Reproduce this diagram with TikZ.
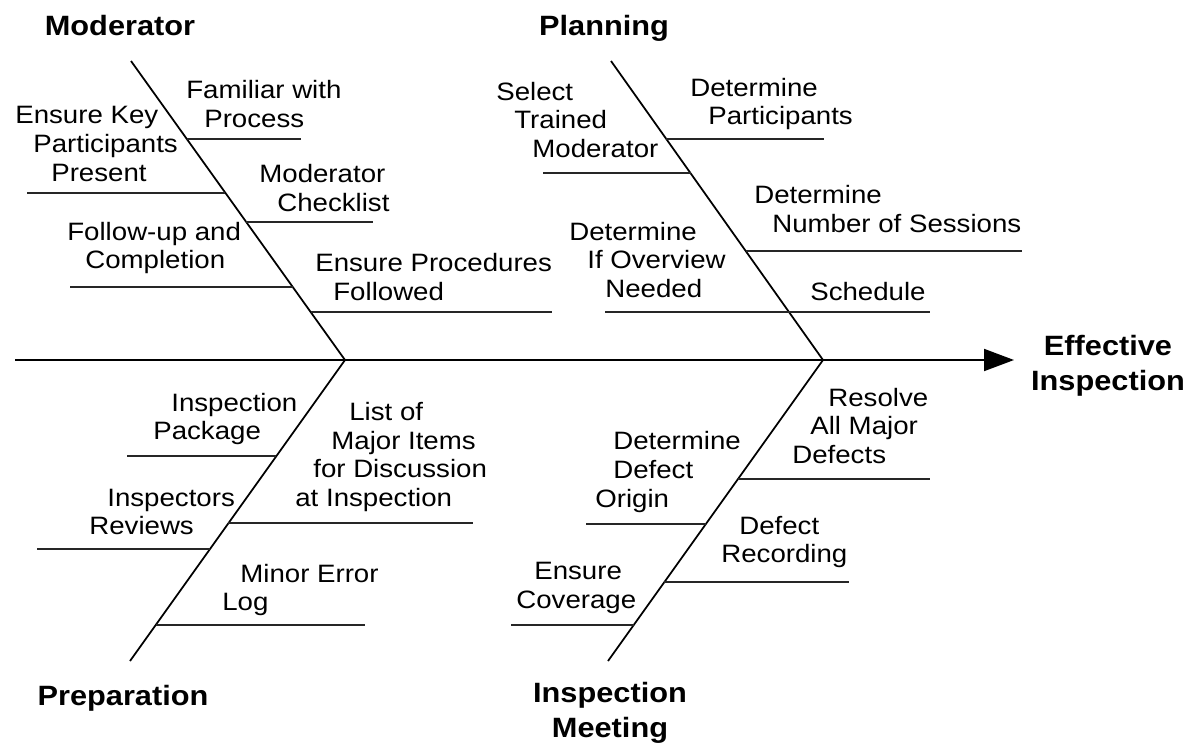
\documentclass[tikz,border=0pt]{standalone}
\usepackage{fontspec}
\setmainfont{Liberation Sans}[FakeStretch=1.1]
\usetikzlibrary{arrows.meta,calc}

\newcommand{\shft}{\kern3.6mm}

\tikzset{
  cause/.style={font=\fontsize{14.3}{16.4}\selectfont, align=left, anchor=west, inner sep=0pt},
  title/.style={font=\fontsize{15.9}{19.8}\selectfont\bfseries, align=center, inner sep=0pt},
  bone/.style={line width=1pt},
  twig/.style={line width=1.1pt, black!85},
  spine/.style={line width=1.1pt, -{Triangle[length=6mm,width=4.4mm]}}
}

\begin{document}
\begin{tikzpicture}[x=0.2mm,y=-0.2mm]
\useasboundingbox (0,0) rectangle (1190,747);

\coordinate (tail) at (15,360) ;
\coordinate (tip) at (1014,360) ;
\coordinate (head1) at (345,360) ;
\coordinate (head2) at (823,360) ;
\coordinate (modtop) at (131,61) ;
\coordinate (plantop) at (611,61) ;
\coordinate (prepend) at (130,661) ;
\coordinate (meetend) at (608,661) ;

\draw[spine] (tail) -- (tip) ;
\draw[bone] (modtop) -- (head1) -- (prepend) ;
\draw[bone] (plantop) -- (head2) -- (meetend) ;

\node[title, anchor=base] (mod) at (120,35) {Moderator} ;
\node[title, anchor=base] (plan) at (604,35) {Planning} ;
\node[title, anchor=base] (prep) at (123,705) {Preparation} ;
\node[title] (meet) at (610,713) {Inspection\\Meeting} ;
\node[title] (effect) at (1108,366) {Effective\\Inspection} ;

\draw[twig] ($(modtop)!.261!(head1)$) -- +(114,0) ;
\draw[twig] ($(modtop)!.441!(head1)$) -- +(-198,0) ;
\draw[twig] ($(modtop)!.538!(head1)$) -- +(127,0) ;
\draw[twig] ($(modtop)!.756!(head1)$) -- +(-223,0) ;
\draw[twig] ($(modtop)!.839!(head1)$) -- +(241,0) ;

\draw[twig] ($(plantop)!.261!(head2)$) -- +(158,0) ;
\draw[twig] ($(plantop)!.375!(head2)$) -- +(-148,0) ;
\draw[twig] ($(plantop)!.635!(head2)$) -- +(276,0) ;
\draw[twig] ($(plantop)!.839!(head2)$) -- +(-184,0) ;
\draw[twig] ($(plantop)!.839!(head2)$) -- +(141,0) ;

\draw[twig] ($(head1)!.319!(prepend)$) -- +(-149,0) ;
\draw[twig] ($(head1)!.542!(prepend)$) -- +(245,0) ;
\draw[twig] ($(head1)!.628!(prepend)$) -- +(-173,0) ;
\draw[twig] ($(head1)!.880!(prepend)$) -- +(209,0) ;

\draw[twig] ($(head2)!.395!(meetend)$) -- +(192,0) ;
\draw[twig] ($(head2)!.545!(meetend)$) -- +(-120,0) ;
\draw[twig] ($(head2)!.738!(meetend)$) -- +(185,0) ;
\draw[twig] ($(head2)!.880!(meetend)$) -- +(-123,0) ;

\node[cause] (famil) at (186,104) {Familiar with\\\shft Process} ;
\node[cause] (keypart) at (15,144) {Ensure Key\\\shft Participants\\\shft\shft Present} ;
\node[cause] (chklist) at (259,188) {Moderator\\\shft Checklist} ;
\node[cause] (follow) at (67,248) {Follow-up and\\\shft Completion} ;
\node[cause] (procs) at (315,277) {Ensure Procedures\\\shft Followed} ;

\node[cause] (seltrain) at (496,120) {Select\\\shft Trained\\\shft\shft Moderator} ;
\node[cause] (partic) at (690,104) {Determine\\\shft Participants} ;
\node[cause] (sessions) at (754,209) {Determine\\\shft Number of Sessions} ;
\node[cause] (overview) at (569,260) {Determine\\\shft If Overview\\\shft\shft Needed} ;
\node[cause] (sched) at (810,292) {Schedule} ;

\node[cause] (pkg) at (153,419) {\shft Inspection\\Package} ;
\node[cause] (majitems) at (295,457) {\shft\shft\shft List of\\\shft\shft Major Items\\\shft for Discussion\\at Inspection} ;
\node[cause] (reviews) at (89,512) {\shft Inspectors\\Reviews} ;
\node[cause] (minorlog) at (222,590) {\shft Minor Error\\Log} ;

\node[cause] (resolve) at (792,426) {\shft\shft Resolve\\\shft All Major\\Defects} ;
\node[cause] (origin) at (595,472) {\shft Determine\\\shft Defect\\Origin} ;
\node[cause] (recording) at (721,542) {\shft Defect\\Recording} ;
\node[cause] (coverage) at (516,588) {\shft Ensure\\Coverage} ;

\end{tikzpicture}
\end{document}
